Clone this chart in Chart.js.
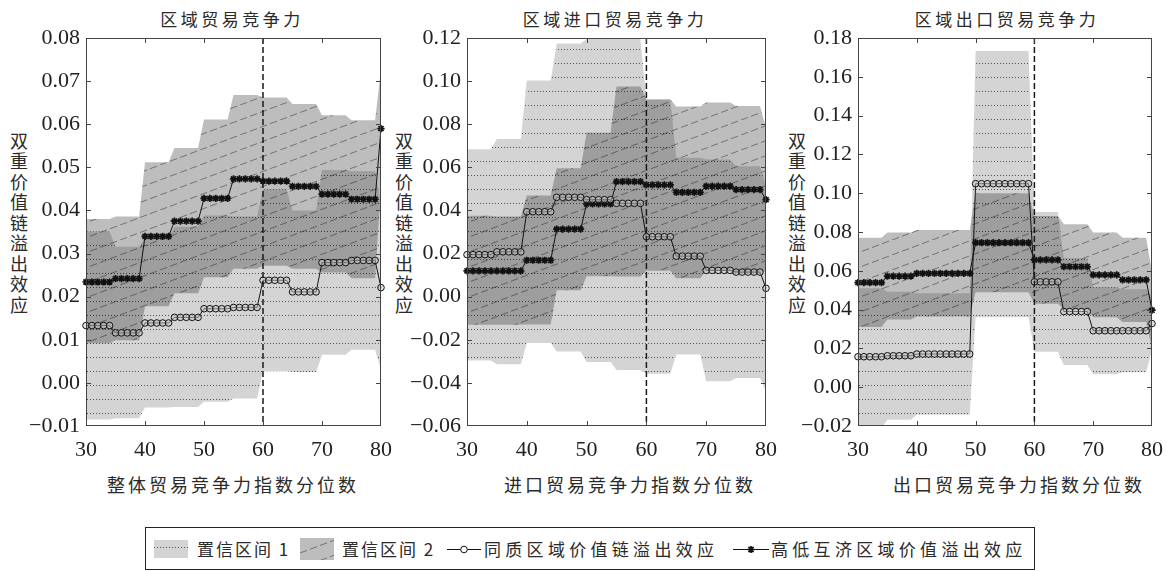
<!DOCTYPE html>
<html>
<head>
<meta charset="utf-8">
<script src="https://cdn.jsdelivr.net/npm/chart.js@4.4.1/dist/chart.umd.min.js"></script>
<style>
html, body { margin: 0; padding: 0; background: #fff; width: 1167px; height: 572px; overflow: hidden; }
body { position: relative; font-family: "Noto Sans CJK SC", sans-serif; color: #2a2a2a; }
canvas { position: absolute; }
.ttl { position: absolute; top: 8px; width: 320px; text-align: center; font-size: 17px; letter-spacing: 3.5px; line-height: 22px; white-space: nowrap; }
.xt { position: absolute; top: 473px; width: 320px; text-align: center; font-size: 18px; letter-spacing: 3px; line-height: 22px; white-space: nowrap; }
.yt { position: absolute; top: 132px; writing-mode: vertical-rl; font-size: 18px; letter-spacing: 2.5px; line-height: 24px; }
#legend { position: absolute; left: 145px; top: 527px; width: 890px; height: 43px; border: 1px solid #222; box-sizing: border-box; }
.lt { position: absolute; top: 538px; font-size: 17px; letter-spacing: 2px; line-height: 22px; white-space: nowrap; }
.lt.wide { letter-spacing: 4.3px; }
</style>
</head>
<body>
<div class="ttl" style="left:72px">区域贸易竞争力</div>
<div class="ttl" style="left:455px">区域进口贸易竞争力</div>
<div class="ttl" style="left:847px">区域出口贸易竞争力</div>
<div class="yt" style="left:7px">双重价值链溢出效应</div>
<div class="yt" style="left:392px">双重价值链溢出效应</div>
<div class="yt" style="left:785px">双重价值链溢出效应</div>
<div class="xt" style="left:73px">整体贸易竞争力指数分位数</div>
<div class="xt" style="left:470px">进口贸易竞争力指数分位数</div>
<div class="xt" style="left:859px">出口贸易竞争力指数分位数</div>

<canvas id="c1" width="405" height="500" style="left:0px;top:0px"></canvas>
<canvas id="c2" width="409" height="500" style="left:381px;top:0px"></canvas>
<canvas id="c3" width="404" height="500" style="left:772px;top:0px"></canvas>

<div id="legend"></div>
<canvas id="sw1" width="34" height="18" style="left:154px;top:540px"></canvas>
<div class="lt" style="left:197px">置信区间 1</div>
<canvas id="sw2" width="34" height="22" style="left:300px;top:538px"></canvas>
<div class="lt" style="left:342px">置信区间 2</div>
<canvas id="sw3" width="34" height="12" style="left:447px;top:543px"></canvas>
<div class="lt wide" style="left:484px">同质区域价值链溢出效应</div>
<canvas id="sw4" width="36" height="12" style="left:733px;top:543px"></canvas>
<div class="lt wide" style="left:771px">高低互济区域价值溢出效应</div>

<script>
// percentiles on the x axis
const xs = [30,31,32,33,34,35,36,37,38,39,40,41,42,43,44,45,46,47,48,49,50,51,52,53,54,55,56,57,58,59,60,61,62,63,64,65,66,67,68,69,70,71,72,73,74,75,76,77,78,79,80];
const cutoff = 60;

// panel 1: overall trade competitiveness
const homo1 = [0.0133,0.0133,0.0133,0.0133,0.0133,0.0116,0.0116,0.0116,0.0116,0.0116,0.0139,0.0139,0.0139,0.0139,0.0139,0.0152,0.0152,0.0152,0.0152,0.0152,0.0172,0.0172,0.0172,0.0172,0.0172,0.0175,0.0175,0.0175,0.0175,0.0175,0.0238,0.0238,0.0238,0.0238,0.0238,0.0211,0.0211,0.0211,0.0211,0.0211,0.0279,0.0279,0.0279,0.0279,0.0279,0.0284,0.0284,0.0284,0.0284,0.0284,0.0221];
const mutual1 = [0.0234,0.0234,0.0234,0.0234,0.0234,0.0242,0.0242,0.0242,0.0242,0.0242,0.0340,0.0340,0.0340,0.0340,0.0340,0.0375,0.0375,0.0375,0.0375,0.0375,0.0428,0.0428,0.0428,0.0428,0.0428,0.0473,0.0473,0.0473,0.0473,0.0473,0.0468,0.0468,0.0468,0.0468,0.0468,0.0456,0.0456,0.0456,0.0456,0.0456,0.0438,0.0438,0.0438,0.0438,0.0438,0.0426,0.0426,0.0426,0.0426,0.0426,0.0590];
const ci1Low1 = [-0.0085,-0.0085,-0.0085,-0.0085,-0.0085,-0.0082,-0.0082,-0.0082,-0.0082,-0.0082,-0.0057,-0.0057,-0.0057,-0.0057,-0.0057,-0.0056,-0.0056,-0.0056,-0.0056,-0.0056,-0.0044,-0.0044,-0.0044,-0.0044,-0.0044,-0.0036,-0.0036,-0.0036,-0.0036,-0.0036,0.0027,0.0027,0.0027,0.0027,0.0027,0.0025,0.0025,0.0025,0.0025,0.0025,0.0065,0.0065,0.0065,0.0065,0.0065,0.0077,0.0077,0.0077,0.0077,0.0077,0.0030];
const ci1High1 = [0.0351,0.0351,0.0351,0.0351,0.0351,0.0316,0.0316,0.0316,0.0316,0.0316,0.0337,0.0337,0.0337,0.0337,0.0337,0.0362,0.0362,0.0362,0.0362,0.0362,0.0388,0.0388,0.0388,0.0388,0.0388,0.0386,0.0386,0.0386,0.0386,0.0386,0.0449,0.0449,0.0449,0.0449,0.0449,0.0400,0.0400,0.0400,0.0400,0.0400,0.0494,0.0494,0.0494,0.0494,0.0494,0.0491,0.0491,0.0491,0.0491,0.0491,0.0415];
const ci2Low1 = [0.0092,0.0092,0.0092,0.0092,0.0092,0.0099,0.0099,0.0099,0.0099,0.0099,0.0178,0.0178,0.0178,0.0178,0.0178,0.0208,0.0208,0.0208,0.0208,0.0208,0.0245,0.0245,0.0245,0.0245,0.0245,0.0265,0.0265,0.0265,0.0265,0.0265,0.0272,0.0272,0.0272,0.0272,0.0272,0.0265,0.0265,0.0265,0.0265,0.0265,0.0256,0.0256,0.0256,0.0256,0.0256,0.0243,0.0243,0.0243,0.0243,0.0243,0.0450];
const ci2High1 = [0.0380,0.0380,0.0380,0.0380,0.0380,0.0386,0.0386,0.0386,0.0386,0.0386,0.0512,0.0512,0.0512,0.0512,0.0512,0.0545,0.0545,0.0545,0.0545,0.0545,0.0611,0.0611,0.0611,0.0611,0.0611,0.0668,0.0668,0.0668,0.0668,0.0668,0.0662,0.0662,0.0662,0.0662,0.0662,0.0647,0.0647,0.0647,0.0647,0.0647,0.0621,0.0621,0.0621,0.0621,0.0621,0.0609,0.0609,0.0609,0.0609,0.0609,0.0730];

// panel 2: import trade competitiveness
const homo2 = [0.0195,0.0195,0.0195,0.0195,0.0195,0.0208,0.0208,0.0208,0.0208,0.0208,0.0394,0.0394,0.0394,0.0394,0.0394,0.0461,0.0461,0.0461,0.0461,0.0461,0.0450,0.0450,0.0450,0.0450,0.0450,0.0433,0.0433,0.0433,0.0433,0.0433,0.0278,0.0278,0.0278,0.0278,0.0278,0.0188,0.0188,0.0188,0.0188,0.0188,0.0122,0.0122,0.0122,0.0122,0.0122,0.0114,0.0114,0.0114,0.0114,0.0114,0.0039];
const mutual2 = [0.0120,0.0120,0.0120,0.0120,0.0120,0.0120,0.0120,0.0120,0.0120,0.0120,0.0169,0.0169,0.0169,0.0169,0.0169,0.0313,0.0313,0.0313,0.0313,0.0313,0.0430,0.0430,0.0430,0.0430,0.0430,0.0534,0.0534,0.0534,0.0534,0.0534,0.0519,0.0519,0.0519,0.0519,0.0519,0.0484,0.0484,0.0484,0.0484,0.0484,0.0513,0.0513,0.0513,0.0513,0.0513,0.0497,0.0497,0.0497,0.0497,0.0497,0.0450];
const ci1Low2 = [-0.0296,-0.0296,-0.0296,-0.0296,-0.0296,-0.0314,-0.0314,-0.0314,-0.0314,-0.0314,-0.0215,-0.0215,-0.0215,-0.0215,-0.0215,-0.0254,-0.0254,-0.0254,-0.0254,-0.0254,-0.0303,-0.0303,-0.0303,-0.0303,-0.0303,-0.0340,-0.0340,-0.0340,-0.0340,-0.0340,-0.0358,-0.0358,-0.0358,-0.0358,-0.0358,-0.0268,-0.0268,-0.0268,-0.0268,-0.0268,-0.0392,-0.0392,-0.0392,-0.0392,-0.0392,-0.0377,-0.0377,-0.0377,-0.0377,-0.0377,-0.0436];
const ci1High2 = [0.0684,0.0684,0.0684,0.0684,0.0684,0.0731,0.0731,0.0731,0.0731,0.0731,0.1003,0.1003,0.1003,0.1003,0.1003,0.1175,0.1175,0.1175,0.1175,0.1175,0.1195,0.1195,0.1195,0.1195,0.1195,0.1195,0.1195,0.1195,0.1195,0.1195,0.0914,0.0914,0.0914,0.0914,0.0914,0.0644,0.0644,0.0644,0.0644,0.0644,0.0636,0.0636,0.0636,0.0636,0.0636,0.0605,0.0605,0.0605,0.0605,0.0605,0.0514];
const ci2Low2 = [-0.0130,-0.0130,-0.0130,-0.0130,-0.0130,-0.0130,-0.0130,-0.0130,-0.0130,-0.0130,-0.0129,-0.0129,-0.0129,-0.0129,-0.0129,0.0030,0.0030,0.0030,0.0030,0.0030,0.0095,0.0095,0.0095,0.0095,0.0095,0.0093,0.0093,0.0093,0.0093,0.0093,0.0120,0.0120,0.0120,0.0120,0.0120,0.0086,0.0086,0.0086,0.0086,0.0086,0.0120,0.0120,0.0120,0.0120,0.0120,0.0109,0.0109,0.0109,0.0109,0.0109,0.0120];
const ci2High2 = [0.0375,0.0375,0.0375,0.0375,0.0375,0.0372,0.0372,0.0372,0.0372,0.0372,0.0469,0.0469,0.0469,0.0469,0.0469,0.0596,0.0596,0.0596,0.0596,0.0596,0.0760,0.0760,0.0760,0.0760,0.0760,0.0975,0.0975,0.0975,0.0975,0.0975,0.0916,0.0916,0.0916,0.0916,0.0916,0.0882,0.0882,0.0882,0.0882,0.0882,0.0901,0.0901,0.0901,0.0901,0.0901,0.0885,0.0885,0.0885,0.0885,0.0885,0.0780];

// panel 3: export trade competitiveness
const homo3 = [0.0157,0.0157,0.0157,0.0157,0.0157,0.0162,0.0162,0.0162,0.0162,0.0162,0.0171,0.0171,0.0171,0.0171,0.0171,0.0171,0.0171,0.0171,0.0171,0.0171,0.1049,0.1049,0.1049,0.1049,0.1049,0.1049,0.1049,0.1049,0.1049,0.1049,0.0543,0.0543,0.0543,0.0543,0.0543,0.0390,0.0390,0.0390,0.0390,0.0390,0.0291,0.0291,0.0291,0.0291,0.0291,0.0291,0.0291,0.0291,0.0291,0.0291,0.0328];
const mutual3 = [0.0539,0.0539,0.0539,0.0539,0.0539,0.0573,0.0573,0.0573,0.0573,0.0573,0.0587,0.0587,0.0587,0.0587,0.0587,0.0587,0.0587,0.0587,0.0587,0.0587,0.0745,0.0745,0.0745,0.0745,0.0745,0.0745,0.0745,0.0745,0.0745,0.0745,0.0656,0.0656,0.0656,0.0656,0.0656,0.0621,0.0621,0.0621,0.0621,0.0621,0.0579,0.0579,0.0579,0.0579,0.0579,0.0553,0.0553,0.0553,0.0553,0.0553,0.0397];
const ci1Low3 = [-0.0210,-0.0210,-0.0210,-0.0210,-0.0210,-0.0168,-0.0168,-0.0168,-0.0168,-0.0168,-0.0142,-0.0142,-0.0142,-0.0142,-0.0142,-0.0142,-0.0142,-0.0142,-0.0142,-0.0142,0.0360,0.0360,0.0360,0.0360,0.0360,0.0360,0.0360,0.0360,0.0360,0.0360,0.0183,0.0183,0.0183,0.0183,0.0183,0.0115,0.0115,0.0115,0.0115,0.0115,0.0067,0.0067,0.0067,0.0067,0.0067,0.0077,0.0077,0.0077,0.0077,0.0077,0.0190];
const ci1High3 = [0.0510,0.0510,0.0510,0.0510,0.0510,0.0492,0.0492,0.0492,0.0492,0.0492,0.0484,0.0484,0.0484,0.0484,0.0484,0.0484,0.0484,0.0484,0.0484,0.0484,0.1733,0.1733,0.1733,0.1733,0.1733,0.1733,0.1733,0.1733,0.1733,0.1733,0.0903,0.0903,0.0903,0.0903,0.0903,0.0665,0.0665,0.0665,0.0665,0.0665,0.0515,0.0515,0.0515,0.0515,0.0515,0.0505,0.0505,0.0505,0.0505,0.0505,0.0466];
const ci2Low3 = [0.0310,0.0310,0.0310,0.0310,0.0310,0.0349,0.0349,0.0349,0.0349,0.0349,0.0364,0.0364,0.0364,0.0364,0.0364,0.0364,0.0364,0.0364,0.0364,0.0364,0.0490,0.0490,0.0490,0.0490,0.0490,0.0490,0.0490,0.0490,0.0490,0.0490,0.0430,0.0430,0.0430,0.0430,0.0430,0.0400,0.0400,0.0400,0.0400,0.0400,0.0360,0.0360,0.0360,0.0360,0.0360,0.0336,0.0336,0.0336,0.0336,0.0336,0.0200];
const ci2High3 = [0.0770,0.0770,0.0770,0.0770,0.0770,0.0797,0.0797,0.0797,0.0797,0.0797,0.0810,0.0810,0.0810,0.0810,0.0810,0.0810,0.0810,0.0810,0.0810,0.0810,0.1000,0.1000,0.1000,0.1000,0.1000,0.1000,0.1000,0.1000,0.1000,0.1000,0.0882,0.0882,0.0882,0.0882,0.0882,0.0840,0.0840,0.0840,0.0840,0.0840,0.0797,0.0797,0.0797,0.0797,0.0797,0.0770,0.0770,0.0770,0.0770,0.0770,0.0594];

const serif = '"Liberation Serif", "DejaVu Serif", serif';

// light grey with dotted rows (interval 1), darker grey with dashed diagonals (interval 2)
function dotPattern() {
    const c = document.createElement('canvas');
    c.width = 3; c.height = 14;
    const g = c.getContext('2d');
    g.fillStyle = 'rgba(0,0,0,0.17)';
    g.fillRect(0, 0, 3, 14);
    g.fillStyle = 'rgba(0,0,0,0.62)';
    g.fillRect(0, 7, 1, 1);
    return g.createPattern(c, 'repeat');
}
function hatchPattern() {
    const w = 40, h = 15;
    const c = document.createElement('canvas');
    c.width = w; c.height = h;
    const g = c.getContext('2d');
    g.fillStyle = 'rgba(0,0,0,0.26)';
    g.fillRect(0, 0, w, h);
    const len = Math.hypot(w, h);
    g.strokeStyle = 'rgba(0,0,0,0.4)';
    g.lineWidth = 1;
    g.setLineDash([len / 4 * 0.7, len / 4 * 0.3]);
    [-w, 0, w].forEach(function (dx) {
        g.beginPath();
        g.moveTo(dx, h);
        g.lineTo(dx + w, 0);
        g.stroke();
    });
    return g.createPattern(c, 'repeat');
}
const pat1 = dotPattern();
const pat2 = hatchPattern();

// frame, inward tick marks and the dashed line at the 60th percentile
const framePlugin = {
    id: 'frame',
    afterDatasetsDraw(chart) {
        const { ctx, chartArea: a, scales } = chart;
        ctx.save();
        const xc = scales.x.getPixelForValue(cutoff);
        ctx.strokeStyle = '#1a1a1a';
        ctx.lineWidth = 1.5;
        ctx.setLineDash([6, 3]);
        ctx.beginPath();
        ctx.moveTo(xc, a.top);
        ctx.lineTo(xc, a.bottom);
        ctx.stroke();
        ctx.setLineDash([]);
        ctx.strokeStyle = '#444';
        ctx.lineWidth = 1;
        ctx.strokeRect(a.left + 0.5, a.top + 0.5, a.right - a.left - 1, a.bottom - a.top - 1);
        ctx.beginPath();
        scales.x.ticks.forEach(function (t) {
            const px = Math.round(scales.x.getPixelForValue(t.value)) + 0.5;
            if (px < a.left + 2 || px > a.right - 2) return;
            ctx.moveTo(px, a.bottom); ctx.lineTo(px, a.bottom - 5);
            ctx.moveTo(px, a.top); ctx.lineTo(px, a.top + 5);
        });
        scales.y.ticks.forEach(function (t) {
            const py = Math.round(scales.y.getPixelForValue(t.value)) + 0.5;
            if (py < a.top + 2 || py > a.bottom - 2) return;
            ctx.moveTo(a.left, py); ctx.lineTo(a.left + 5, py);
            ctx.moveTo(a.right, py); ctx.lineTo(a.right - 5, py);
        });
        ctx.stroke();
        ctx.restore();
    }
};

function fmt(v) {
    if (Math.abs(v) < 1e-9) return '0.00';
    return (v < 0 ? '\u2212' : '') + Math.abs(v).toFixed(2);
}

function makePanel(id, yMin, yMax, yStep, homo, mutual, ci1Low, ci1High, ci2Low, ci2High) {
    const band = { pointRadius: 0, borderWidth: 0, borderColor: 'rgba(0,0,0,0)', tension: 0 };
    return new Chart(document.getElementById(id), {
        type: 'line',
        data: {
            labels: xs,
            datasets: [
                {
                    label: '同质区域价值链溢出效应',
                    data: homo,
                    borderColor: '#111',
                    borderWidth: 1,
                    pointStyle: 'circle',
                    pointRadius: 3.3,
                    pointBorderWidth: 1,
                    pointBorderColor: '#111',
                    pointBackgroundColor: 'rgba(200,200,200,0.5)',
                    fill: false,
                    clip: 8
                },
                {
                    label: '高低互济区域价值溢出效应',
                    data: mutual,
                    borderColor: '#111',
                    borderWidth: 1,
                    pointStyle: 'star',
                    pointRadius: 3.6,
                    pointBorderWidth: 1.7,
                    pointBorderColor: '#111',
                    pointBackgroundColor: '#111',
                    fill: false,
                    clip: 8
                },
                Object.assign({ label: 'ci1 low', data: ci1Low, fill: false }, band),
                Object.assign({ label: '置信区间 1', data: ci1High, fill: '-1', backgroundColor: pat1 }, band),
                Object.assign({ label: 'ci2 low', data: ci2Low, fill: false }, band),
                Object.assign({ label: '置信区间 2', data: ci2High, fill: '-1', backgroundColor: pat2 }, band)
            ]
        },
        options: {
            responsive: false,
            animation: false,
            events: [],
            layout: { padding: { top: 38, right: 24, left: 0, bottom: 0 } },
            plugins: {
                legend: { display: false },
                tooltip: { enabled: false },
                title: { display: false }
            },
            scales: {
                x: {
                    type: 'linear',
                    min: 30,
                    max: 80,
                    grid: { display: false, drawTicks: false },
                    border: { display: false },
                    ticks: {
                        stepSize: 10,
                        padding: 11,
                        maxRotation: 0,
                        color: '#222',
                        font: { family: serif, size: 22 }
                    },
                    afterFit: function (s) { s.height = 74; }
                },
                y: {
                    min: yMin,
                    max: yMax,
                    grid: { display: false, drawTicks: false },
                    border: { display: false },
                    ticks: {
                        stepSize: yStep,
                        padding: 6,
                        color: '#222',
                        font: { family: serif, size: 22 },
                        callback: fmt
                    },
                    afterFit: function (s) { s.width = 86; }
                }
            }
        },
        plugins: [framePlugin]
    });
}

makePanel('c1', -0.01, 0.08, 0.01, homo1, mutual1, ci1Low1, ci1High1, ci2Low1, ci2High1);
makePanel('c2', -0.06, 0.12, 0.02, homo2, mutual2, ci1Low2, ci1High2, ci2Low2, ci2High2);
makePanel('c3', -0.02, 0.18, 0.02, homo3, mutual3, ci1Low3, ci1High3, ci2Low3, ci2High3);

// legend swatches
(function () {
    let g = document.getElementById('sw1').getContext('2d');
    g.fillStyle = pat1; g.fillRect(0, 0, 34, 18);
    g = document.getElementById('sw2').getContext('2d');
    g.fillStyle = pat2; g.fillRect(0, 0, 34, 22);
    const lines = [['sw3', 'circle', 3.3, 'rgba(255,255,255,1)'], ['sw4', 'star', 3.6, '#111']];
    lines.forEach(function (l) {
        const cv = document.getElementById(l[0]);
        const c = cv.getContext('2d');
        c.strokeStyle = '#111';
        c.lineWidth = 1;
        c.beginPath(); c.moveTo(0, 6.5); c.lineTo(cv.width, 6.5); c.stroke();
        c.fillStyle = l[3];
        c.lineWidth = l[1] === 'star' ? 1.7 : 1;
        Chart.helpers.drawPoint(c, { pointStyle: l[1], radius: l[2], borderWidth: c.lineWidth, rotation: 0 }, cv.width / 2, 6.5);
    });
})();
</script>
</body>
</html>
